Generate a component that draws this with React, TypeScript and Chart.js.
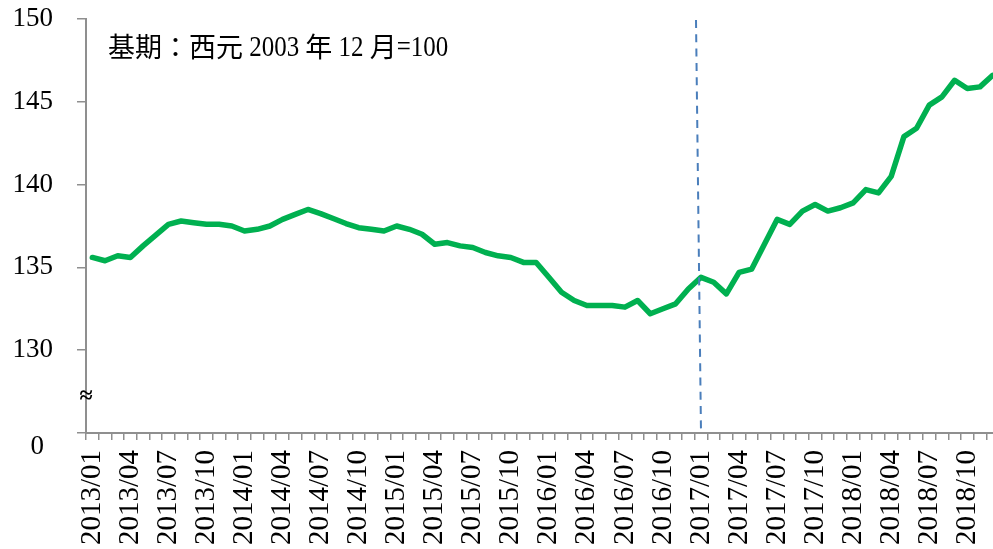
import React, { useEffect, useRef } from "react";
import { Chart, registerables } from "chart.js";

Chart.register(...registerables);

// ---- data ----
const YEARS = [2013, 2014, 2015, 2016, 2017, 2018];
const MONTHS = ["01", "02", "03", "04", "05", "06", "07", "08", "09", "10", "11", "12"];
const categories: string[] = [];
YEARS.forEach((y) => MONTHS.forEach((m) => categories.push(`${y}/${m}`)));

const values2013 = [135.6, 135.4, 135.7, 135.6, 136.3, 136.95, 137.6, 137.8, 137.7, 137.6, 137.6, 137.5];
const values2014 = [137.2, 137.3, 137.5, 137.9, 138.2, 138.5, 138.25, 137.95, 137.65, 137.4, 137.3, 137.2];
const values2015 = [137.5, 137.3, 137.0, 136.4, 136.5, 136.3, 136.2, 135.9, 135.7, 135.6, 135.3, 135.3];
const values2016 = [134.4, 133.5, 133.0, 132.7, 132.7, 132.7, 132.6, 133.0, 132.2, 132.5, 132.8, 133.7];
const values2017 = [134.4, 134.1, 133.4, 134.7, 134.9, 136.4, 137.9, 137.6, 138.4, 138.8, 138.4, 138.6];
const values2018 = [138.9, 139.7, 139.5, 140.5, 142.9, 143.4, 144.8, 145.3, 146.3, 145.8, 145.9, 146.6];
const indexValues = [...values2013, ...values2014, ...values2015, ...values2016, ...values2017, ...values2018];

const Y_MIN = 125; // shown as "0" (axis break)
const Y_MAX = 150;
const Y_STEP = 5;
const BREAK_LABEL = "0";
const BREAK_SYMBOL = "≈";
const MARKER_CATEGORY = "2017/01";
const NOTE_SEGMENTS: { text: string; cjk: boolean }[] = [
  { text: "基期：西元", cjk: true },
  { text: " 2003 ", cjk: false },
  { text: "年", cjk: true },
  { text: " 12 ", cjk: false },
  { text: "月", cjk: true },
  { text: "=100", cjk: false },
];

const AXIS_COLOR = "#8f8f8f";
const SERIF = '"Liberation Serif", "Times New Roman", serif';

const overlayPlugin = {
  id: "overlay",
  afterDatasetsDraw(chart: any) {
    const { ctx, chartArea, scales } = chart;
    const xs = scales.x;
    const idx = categories.indexOf(MARKER_CATEGORY);
    const xb = xs.getPixelForValue(idx);
    ctx.save();
    ctx.strokeStyle = "#4A7EBB";
    ctx.lineWidth = 2;
    ctx.setLineDash([8, 6.3]);
    ctx.beginPath();
    ctx.moveTo(xb - 5, chartArea.top + 1);
    ctx.lineTo(xb, chartArea.bottom);
    ctx.stroke();
    ctx.restore();
  },
  afterDraw(chart: any) {
    const { ctx, chartArea, scales } = chart;
    const ys = scales.y;
    ctx.save();
    // "0" label of the broken axis
    ctx.fillStyle = "#000";
    ctx.font = `27px ${SERIF}`;
    ctx.textAlign = "right";
    ctx.textBaseline = "middle";
    ctx.fillText(BREAK_LABEL, chartArea.left - 42, ys.getPixelForValue(Y_MIN) + 14);
    // axis break symbol
    ctx.textAlign = "center";
    ctx.font = `bold 24px ${SERIF}`;
    ctx.fillText(BREAK_SYMBOL, chartArea.left, ys.getPixelForValue(127.2));
    // note text
    let x = chartArea.left + 22;
    const base = chartArea.top + 37;
    ctx.textAlign = "left";
    ctx.textBaseline = "alphabetic";
    NOTE_SEGMENTS.forEach((seg) => {
      if (seg.cjk) {
        ctx.font = '27px "Noto Sans CJK TC", "Noto Sans CJK SC", sans-serif';
        ctx.fillText(seg.text, x, base + 1);
        x += ctx.measureText(seg.text).width;
      } else {
        ctx.font = `29px ${SERIF}`;
        const sx = 0.86;
        ctx.save();
        ctx.translate(x, base);
        ctx.scale(sx, 1);
        ctx.fillText(seg.text, 0, 0);
        ctx.restore();
        x += ctx.measureText(seg.text).width * sx;
      }
    });
    ctx.restore();
  },
};

export default function App() {
  const ref = useRef<HTMLCanvasElement>(null);
  useEffect(() => {
    document.documentElement.style.overflow = "hidden";
    document.body.style.overflow = "hidden";
    document.body.style.margin = "0";
    const chart = new Chart(ref.current!, {
      type: "line",
      data: {
        labels: categories,
        datasets: [
          {
            data: indexValues,
            borderColor: "#00B050",
            borderWidth: 5.5,
            pointRadius: 0,
            tension: 0,
            fill: false,
            borderJoinStyle: "round",
            borderCapStyle: "round",
          },
        ],
      },
      options: {
        responsive: false,
        animation: false,
        layout: { padding: { top: 19, right: 1, left: 0, bottom: 0 } },
        plugins: { legend: { display: false }, tooltip: { enabled: false } },
        scales: {
          x: {
            offset: true,
            grid: {
              offset: true,
              drawOnChartArea: false,
              drawTicks: true,
              tickLength: 7,
              color: AXIS_COLOR,
              lineWidth: 1.5,
            },
            border: { display: true, color: AXIS_COLOR, width: 2 },
            ticks: {
              autoSkip: false,
              minRotation: 90,
              maxRotation: 90,
              padding: 10,
              color: "#000",
              font: { family: SERIF, size: 29 },
              callback: (_v: any, i: number) => (i % 3 === 0 ? categories[i] : ""),
            },
            afterFit: (s: any) => {
              s.height = 116;
              s.paddingLeft = 0;
              s.paddingRight = 0;
              s.paddingTop = 0;
              s.paddingBottom = 0;
            },
          },
          y: {
            min: Y_MIN,
            max: Y_MAX,
            grid: {
              drawOnChartArea: false,
              drawTicks: true,
              tickLength: 9,
              color: AXIS_COLOR,
              lineWidth: 1.5,
            },
            border: { display: true, color: AXIS_COLOR, width: 2 },
            ticks: {
              stepSize: Y_STEP,
              padding: 24,
              color: "#000",
              font: { family: SERIF, size: 27 },
              callback: (v: any) => (v === Y_MIN ? "" : String(v)),
            },
            afterFit: (s: any) => {
              s.width = 86;
              s.paddingTop = 0;
              s.paddingBottom = 0;
              s.paddingLeft = 0;
              s.paddingRight = 0;
            },
          },
        },
      },
      plugins: [overlayPlugin],
    } as any);
    return () => chart.destroy();
  }, []);
  return (
    <div style={{ position: "absolute", left: 0, top: 0, width: 1000, height: 549 }}>
      <canvas ref={ref} width={1000} height={549} />
    </div>
  );
}
